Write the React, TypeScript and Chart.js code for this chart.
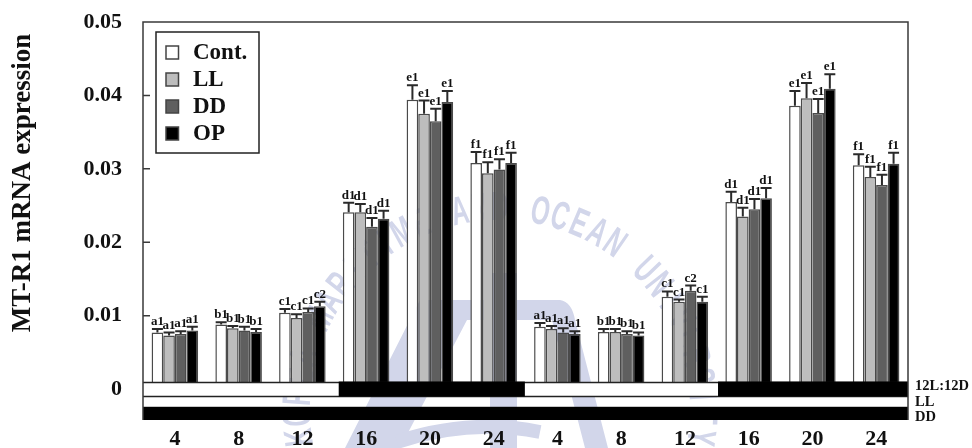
import React, { useEffect, useRef } from "react";
import { Chart, registerables } from "chart.js";

Chart.register(...registerables);

const SERIF = "'Liberation Serif', serif";

const hours = ["4", "8", "12", "16", "20", "24", "4", "8", "12", "16", "20", "24"];
const yTicks = [0, 0.01, 0.02, 0.03, 0.04, 0.05];
const yTitle = "MT-R1 mRNA expression";
const seriesNames = ["Cont.", "LL", "DD", "OP"];
const seriesFill = ["#ffffff", "#bdbdbd", "#5f5f5f", "#000000"];

const cont = [0.0077, 0.0088, 0.0104, 0.0241, 0.0394, 0.0308, 0.0085, 0.0078, 0.0126, 0.0255, 0.0386, 0.0305];
const ll = [0.0073, 0.0083, 0.0097, 0.0241, 0.0375, 0.0294, 0.0082, 0.0078, 0.0119, 0.0235, 0.0396, 0.0289];
const dd = [0.0075, 0.008, 0.0105, 0.0221, 0.0365, 0.0299, 0.0077, 0.0075, 0.0134, 0.0245, 0.0376, 0.0278];
const op = [0.008, 0.0078, 0.0113, 0.0232, 0.0391, 0.0308, 0.0075, 0.0073, 0.0119, 0.026, 0.0409, 0.0307];

const contHigh = [0.0082, 0.0091, 0.0109, 0.0254, 0.0414, 0.0323, 0.009, 0.0082, 0.0133, 0.0269, 0.0406, 0.032];
const llHigh = [0.0077, 0.0086, 0.0102, 0.0252, 0.0393, 0.0309, 0.0086, 0.0082, 0.0122, 0.0247, 0.0417, 0.0303];
const ddHigh = [0.0079, 0.0085, 0.011, 0.0233, 0.0382, 0.0313, 0.0083, 0.0079, 0.0141, 0.0259, 0.0395, 0.0292];
const opHigh = [0.0085, 0.0082, 0.0119, 0.0243, 0.0406, 0.0322, 0.0079, 0.0077, 0.0126, 0.0274, 0.0429, 0.0322];

const contLetters = ["a1", "b1", "c1", "d1", "e1", "f1", "a1", "b1", "c1", "d1", "e1", "f1"];
const llLetters = ["a1", "b1", "c1", "d1", "e1", "f1", "a1", "b1", "c1", "d1", "e1", "f1"];
const ddLetters = ["a1", "b1", "c1", "d1", "e1", "f1", "a1", "b1", "c2", "d1", "e1", "f1"];
const opLetters = ["a1", "b1", "c2", "d1", "e1", "f1", "a1", "b1", "c1", "d1", "e1", "f1"];

// Photoperiod strips: value range on the y scale, then [from, to] in category units.
const darkPhases = [[3.07, 5.99], [9.02, 12]];
const stripTop = 0.0009;
const strip12Bottom = -0.001;
const stripLLBottom = -0.0024;
const stripDDBottom = -0.0042;
const stripNames = ["12L:12D", "LL", "DD"];

const watermarkText = "KOREA MARITIME AND OCEAN UNIVERSITY";

const values = [cont, ll, dd, op];
const highs = [contHigh, llHigh, ddHigh, opHigh];
const letters = [contLetters, llLetters, ddLetters, opLetters];

const WM = "#d2d6ea";
const INK = "#3a3a3a";

const watermark = {
  id: "watermark",
  beforeDraw(chart: any) {
    const { ctx } = chart;
    ctx.save();
    ctx.strokeStyle = WM;
    ctx.fillStyle = WM;
    // arched emblem
    ctx.beginPath();
    ctx.moveTo(345, 448);
    ctx.lineTo(420, 300);
    ctx.lineTo(560, 300);
    ctx.quadraticCurveTo(572, 302, 575, 320);
    ctx.lineTo(608, 448);
    ctx.lineTo(585, 448);
    ctx.lineTo(552, 320);
    ctx.lineTo(467, 320);
    ctx.lineTo(400, 448);
    ctx.closePath();
    ctx.fill();
    ctx.fillRect(490, 273, 27, 175);
    ctx.lineWidth = 14;
    ctx.beginPath();
    ctx.moveTo(397, 442);
    ctx.quadraticCurveTo(470, 418, 540, 432);
    ctx.stroke();
    // arc lettering
    const cx = 500;
    const cy = 410;
    const R = 190;
    const step = (5.75 * Math.PI) / 180;
    const start = -((watermarkText.length - 1) / 2) * step;
    ctx.font = "bold 40px 'Liberation Sans'";
    ctx.textAlign = "center";
    ctx.textBaseline = "alphabetic";
    [...watermarkText].forEach((ch, i) => {
      const a = start + i * step;
      ctx.save();
      ctx.translate(cx + R * Math.sin(a), cy - R * Math.cos(a));
      ctx.rotate(a);
      ctx.scale(0.6, 1);
      ctx.fillText(ch, 0, 0);
      ctx.restore();
    });
    ctx.restore();
  },
};

const overlays = {
  id: "overlays",
  afterDatasetsDraw(chart: any) {
    const { ctx, scales, chartArea } = chart;
    const { x, y } = scales;
    const { left, right, top, bottom } = chartArea;
    const group = x.getPixelForValue(1) - x.getPixelForValue(0);
    const toX = (u: number) => x.getPixelForValue(0) + (u - 0.5) * group;
    ctx.save();

    // error bars and significance letters
    values.forEach((_, s) => {
      const meta = chart.getDatasetMeta(s);
      meta.data.forEach((bar: any, i: number) => {
        const yHigh = y.getPixelForValue(highs[s][i]);
        ctx.strokeStyle = "#2a2a2a";
        ctx.lineWidth = 2;
        ctx.beginPath();
        ctx.moveTo(bar.x, bar.y);
        ctx.lineTo(bar.x, yHigh);
        ctx.moveTo(bar.x - 5.5, yHigh);
        ctx.lineTo(bar.x + 5.5, yHigh);
        ctx.stroke();
        ctx.fillStyle = "#111";
        ctx.font = `bold 13px ${SERIF}`;
        ctx.textAlign = "center";
        ctx.textBaseline = "alphabetic";
        ctx.fillText(letters[s][i], bar.x, yHigh - 4);
      });
    });

    // photoperiod strips
    const y0 = y.getPixelForValue(stripTop);
    const y1 = y.getPixelForValue(strip12Bottom);
    const y2 = y.getPixelForValue(stripLLBottom);
    const y3 = y.getPixelForValue(stripDDBottom);
    ctx.fillStyle = "#ffffff";
    ctx.fillRect(left, y0, right - left, y1 - y0);
    ctx.strokeStyle = "#222";
    ctx.lineWidth = 1.5;
    ctx.beginPath();
    ctx.moveTo(left, y0);
    ctx.lineTo(right, y0);
    ctx.moveTo(left, y1);
    ctx.lineTo(right, y1);
    ctx.stroke();
    ctx.fillStyle = "#000";
    darkPhases.forEach(([a, b]) => {
      ctx.fillRect(toX(a), y0 - 1, toX(b) - toX(a), y1 - y0 + 1);
    });
    ctx.fillRect(left, y2, right - left, y3 - y2);

    // frame and inward ticks
    ctx.strokeStyle = INK;
    ctx.lineWidth = 1.5;
    ctx.beginPath();
    ctx.moveTo(left, bottom);
    ctx.lineTo(left, top);
    ctx.lineTo(right, top);
    ctx.lineTo(right, bottom);
    yTicks.slice(1, -1).forEach((t) => {
      const p = y.getPixelForValue(t);
      ctx.moveTo(left, p);
      ctx.lineTo(left + 7, p);
    });
    ctx.stroke();

    // strip names
    ctx.fillStyle = "#111";
    ctx.font = `bold 14.5px ${SERIF}`;
    ctx.textAlign = "left";
    ctx.textBaseline = "middle";
    [(y0 + y1) / 2 - 3, (y1 + y2) / 2 + 0.5, (y2 + y3) / 2 + 3.5].forEach((p, i) => {
      ctx.fillText(stripNames[i], right + 7, p);
    });

    // legend
    const lx = left + 13;
    const ly = top + 10;
    ctx.fillStyle = "#fff";
    ctx.fillRect(lx, ly, 103, 121);
    ctx.strokeStyle = "#222";
    ctx.lineWidth = 1.5;
    ctx.strokeRect(lx, ly, 103, 121);
    seriesNames.forEach((name, i) => {
      const rowY = ly + 20.5 + i * 27;
      ctx.fillStyle = seriesFill[i];
      ctx.fillRect(lx + 10, rowY - 6.5, 12.5, 13);
      ctx.strokeStyle = "#444";
      ctx.strokeRect(lx + 10, rowY - 6.5, 12.5, 13);
      ctx.fillStyle = "#111";
      ctx.font = `bold 23px ${SERIF}`;
      ctx.textBaseline = "middle";
      ctx.fillText(name, lx + 37, rowY + 1);
    });

    // y axis title
    ctx.save();
    ctx.translate(23, 183);
    ctx.rotate(-Math.PI / 2);
    ctx.fillStyle = "#111";
    ctx.font = `bold 27px ${SERIF}`;
    ctx.textAlign = "center";
    ctx.textBaseline = "middle";
    ctx.fillText(yTitle, 0, 0);
    ctx.restore();

    ctx.restore();
  },
};

export default function App() {
  const ref = useRef<HTMLCanvasElement>(null);
  useEffect(() => {
    document.body.style.margin = "0";
    const chart = new Chart(ref.current as any, {
      type: "bar",
      data: {
        labels: hours,
        datasets: values.map((v, s) => ({
          label: seriesNames[s],
          data: v,
          backgroundColor: seriesFill[s],
          borderColor: "#4a4a4a",
          borderWidth: 1.5,
          categoryPercentage: 0.73,
          barPercentage: 1,
        })),
      },
      plugins: [watermark, overlays],
      options: {
        animation: false,
        responsive: false,
        layout: { padding: { top: 22, right: 64, left: 0, bottom: 0 } },
        plugins: { legend: { display: false }, tooltip: { enabled: false } },
        scales: {
          x: {
            grid: { display: false, drawTicks: false },
            border: { display: false },
            ticks: {
              color: "#111",
              padding: 6,
              maxRotation: 0,
              autoSkip: false,
              font: { family: SERIF, weight: "bold", size: 22 },
            },
            afterFit: (s: any) => {
              s.height = 28;
              s.paddingLeft = 0;
              s.paddingRight = 0;
            },
          },
          y: {
            min: -0.0042,
            max: 0.05,
            grid: { display: false, drawTicks: false },
            border: { display: false },
            afterBuildTicks: (s: any) => {
              s.ticks = yTicks.map((value) => ({ value }));
            },
            ticks: {
              color: "#111",
              padding: 21,
              font: { family: SERIF, weight: "bold", size: 22 },
              callback: (v: any) => String(v),
            },
            afterFit: (s: any) => {
              s.width = 143;
              s.paddingTop = 0;
              s.paddingBottom = 0;
            },
          },
        },
      } as any,
    });
    return () => chart.destroy();
  }, []);
  return (
    <div style={{ width: 972, height: 448, background: "#fff" }}>
      <canvas ref={ref} width={972} height={448} style={{ display: "block" }} />
    </div>
  );
}
